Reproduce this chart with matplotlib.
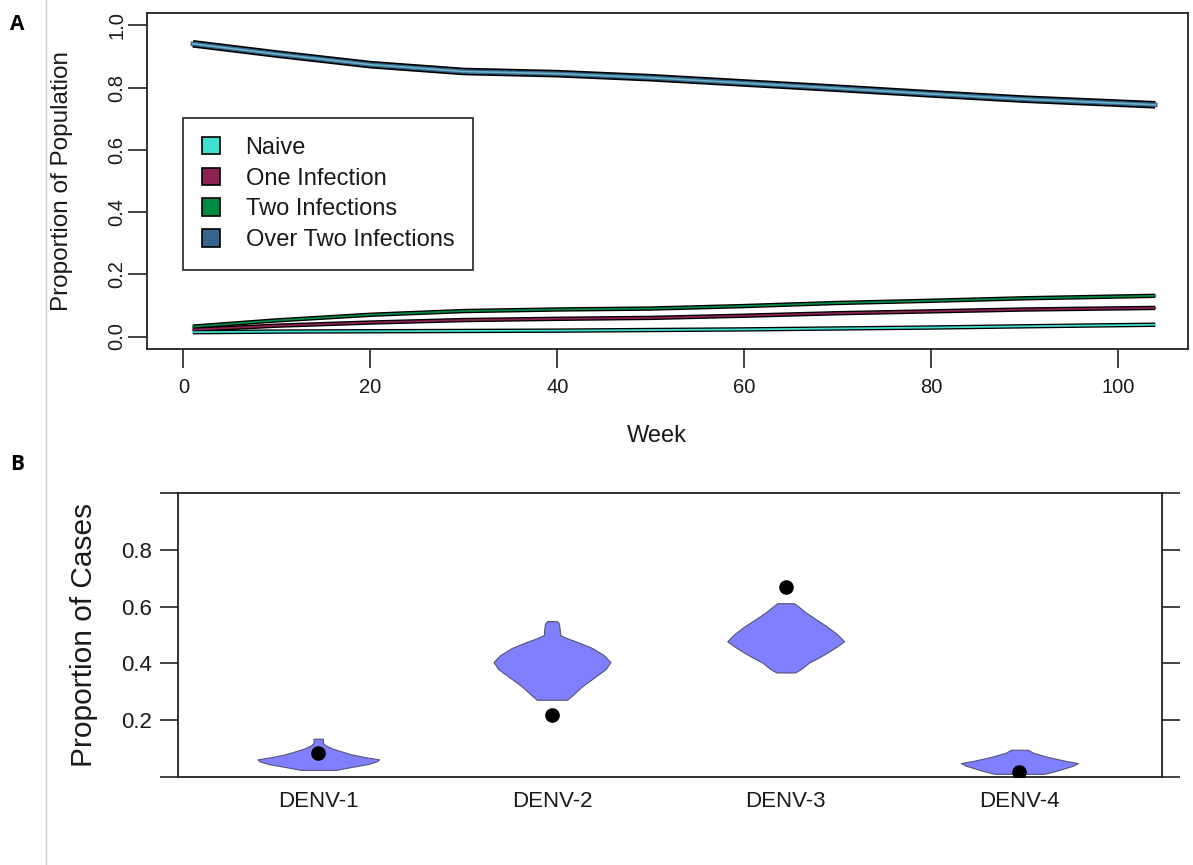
import numpy as np
import matplotlib
matplotlib.use("Agg")
import matplotlib.pyplot as plt
from matplotlib.lines import Line2D
from matplotlib.patches import Patch

plt.rcParams['font.family'] = ['Liberation Sans', 'DejaVu Sans']

# --- panel A: population immunity over time ---
weeks = [1, 10, 20, 30, 40, 50, 60, 70, 80, 90, 104]
naive = [0.014, 0.016, 0.017, 0.018, 0.019, 0.021, 0.023, 0.026, 0.029, 0.033, 0.038]
one_inf = [0.022, 0.035, 0.045, 0.053, 0.057, 0.060, 0.067, 0.075, 0.081, 0.087, 0.092]
two_inf = [0.032, 0.052, 0.070, 0.082, 0.087, 0.090, 0.098, 0.108, 0.115, 0.123, 0.131]
over_two = [0.941, 0.908, 0.874, 0.852, 0.845, 0.832, 0.815, 0.798, 0.780, 0.763, 0.745]

series_names = ["Naive", "One Infection", "Two Infections", "Over Two Infections"]
series_colors = ["#40E0D0", "#8B2252", "#008B45", "#36648B"]

# --- panel B: serotype proportions (violin outlines) ---
serotypes = ["DENV-1", "DENV-2", "DENV-3", "DENV-4"]
observed = [0.085, 0.219, 0.669, 0.018]

v1_y = [0.025, 0.035, 0.045, 0.055, 0.062, 0.070, 0.080, 0.090, 0.100, 0.112, 0.120, 0.135]
v1_w = [0.075, 0.14, 0.21, 0.25, 0.26, 0.20, 0.14, 0.10, 0.06, 0.03, 0.02, 0.02]
v2_y = [0.272, 0.290, 0.320, 0.350, 0.380, 0.405, 0.430, 0.455, 0.475, 0.490, 0.500, 0.520, 0.540, 0.549]
v2_w = [0.065, 0.09, 0.13, 0.18, 0.23, 0.25, 0.22, 0.17, 0.11, 0.06, 0.035, 0.033, 0.03, 0.02]
v3_y = [0.368, 0.380, 0.403, 0.420, 0.439, 0.460, 0.478, 0.503, 0.531, 0.555, 0.580, 0.600, 0.612]
v3_w = [0.04, 0.065, 0.10, 0.14, 0.18, 0.22, 0.25, 0.22, 0.175, 0.13, 0.085, 0.055, 0.036]
v4_y = [0.011, 0.020, 0.030, 0.040, 0.049, 0.058, 0.071, 0.085, 0.096]
v4_w = [0.105, 0.15, 0.19, 0.23, 0.25, 0.19, 0.12, 0.06, 0.036]
violins = [(v1_y, v1_w), (v2_y, v2_w), (v3_y, v3_w), (v4_y, v4_w)]

W, H = 1193, 865
fig = plt.figure(figsize=(W / 100, H / 100), dpi=100)

def box(l, t, r, b):
    return [l / W, 1 - b / H, (r - l) / W, (b - t) / H]

txt = "#1a1a1a"

# panel A
ax1 = fig.add_axes(box(147, 13, 1188, 349))
for vals, col in zip([naive, one_inf, two_inf], series_colors[:3]):
    ax1.plot(weeks, vals, color="black", lw=3.2, solid_capstyle="butt", zorder=2)
    ax1.plot(weeks, vals, color=col, lw=1.3, zorder=3)
ax1.plot(weeks, over_two, color="black", lw=5.5, solid_capstyle="butt", zorder=2)
ax1.plot(weeks, over_two, color=series_colors[3], lw=3.2, zorder=3)
ax1.plot(weeks, over_two, color="#6CB4C8", lw=1.2, zorder=4)

ax1.set_xlim(-3.9, 107.5)
ax1.set_ylim(-0.04, 1.04)
ax1.set_xticks([0, 20, 40, 60, 80, 100])
ax1.set_yticks([0.0, 0.2, 0.4, 0.6, 0.8, 1.0])
ax1.set_yticklabels(["0.0", "0.2", "0.4", "0.6", "0.8", "1.0"], rotation=90, va="center")
ax1.tick_params(axis="both", direction="out", length=14, width=1.2, labelsize=14.5,
                colors="#222222", labelcolor=txt)
ax1.tick_params(axis="x", pad=7)
ax1.tick_params(axis="y", pad=1)
for s in ax1.spines.values():
    s.set_linewidth(1.3)
    s.set_color("#222222")
ax1.set_xlabel("Week", fontsize=17, color=txt)
ax1.xaxis.set_label_coords((657 - 147) / 1041, (349 - 436) / 336)
ax1.xaxis.label.set_va("center")
ax1.set_ylabel("Proportion of Population", fontsize=17.5, color=txt)
ax1.yaxis.set_label_coords((62 - 147) / 1041, 0.5)
ax1.yaxis.label.set_va("center")

handles = [Patch(facecolor=c, edgecolor="black", linewidth=1.2) for c in series_colors]
leg = ax1.legend(handles, series_names, loc="upper left", bbox_to_anchor=(0.0346, 0.6875),
                 fontsize=17, frameon=True, fancybox=False, handlelength=0.75, handleheight=0.75,
                 handletextpad=1.1, labelspacing=0.37, borderpad=0.8, borderaxespad=0)
leg.get_frame().set_edgecolor("black")
leg.get_frame().set_linewidth(1.3)
for t in leg.get_texts():
    t.set_color(txt)

# panel B
ax2 = fig.add_axes(box(178, 493, 1162, 777))
pos = np.arange(1, len(serotypes) + 1)
for p, (vy, vw) in zip(pos, violins):
    vy = np.array(vy)
    vw = np.array(vw)
    ax2.fill_betweenx(vy, p - vw, p + vw, facecolor="#7F7FFF", edgecolor="#555577",
                      linewidth=0.8, zorder=2)
ax2.plot(pos, observed, "o", color="black", markersize=9.5, zorder=3)

ax2.set_xlim(0.4, 4.61)
ax2.set_ylim(0.0, 1.0)
ax2.set_xticks(pos)
ax2.set_xticklabels(serotypes)
ax2.set_yticks([0.0, 0.2, 0.4, 0.6, 0.8, 1.0])
ax2.set_yticklabels(["", "0.2", "0.4", "0.6", "0.8", ""])
ax2.tick_params(axis="y", direction="out", length=13, width=1.2, labelsize=16,
                colors="#222222", labelcolor=txt, right=True, pad=6)
ax2.tick_params(axis="x", length=0, labelsize=16, labelcolor=txt, pad=10)
for s in ax2.spines.values():
    s.set_linewidth(1.3)
    s.set_color("#222222")
ax2.set_ylabel("Proportion of Cases", fontsize=21.5, color=txt)
ax2.yaxis.set_label_coords((84 - 178) / 984, 0.5)
ax2.yaxis.label.set_va("center")

# panel letters and the left rule
fig.text(17 / W, 1 - 25 / H, "A", fontsize=15, fontweight="bold", family="Open Sans",
         ha="center", va="center")
fig.text(17 / W, 1 - 465 / H, "B", fontsize=15, fontweight="bold", family="Open Sans",
         ha="center", va="center")
fig.add_artist(Line2D([45.5 / W, 45.5 / W], [0, 1], color="#cccccc", lw=1))

fig.savefig("out.png", dpi=100)
